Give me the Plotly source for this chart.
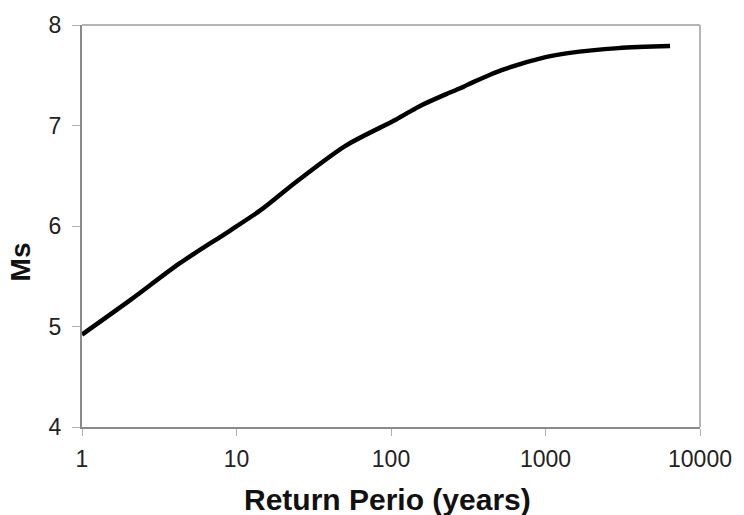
import plotly.graph_objects as go

# Data
return_period = [1, 2.04, 4.3, 9.0, 14.7, 24.4, 51, 108, 152, 226, 280, 318, 520, 1000, 1400, 2960, 6400]
ms_values = [4.92, 5.26, 5.63, 5.95, 6.17, 6.44, 6.80, 7.06, 7.19, 7.31, 7.37, 7.41, 7.55, 7.68, 7.72, 7.77, 7.79]

x_tickvals = [1, 10, 100, 1000, 10000]
x_ticktext = ["1", "10", "100", "1000", "10000"]
y_tickvals = [4, 5, 6, 7, 8]

fig = go.Figure()
fig.add_trace(go.Scatter(
    x=return_period, y=ms_values, mode="lines",
    line=dict(color="black", width=4.5, shape="spline", smoothing=0.8),
    showlegend=False,
))

font_family = "Liberation Sans, Arial, sans-serif"

fig.update_layout(
    width=744, height=515,
    margin=dict(l=82, r=41, t=25, b=88),
    paper_bgcolor="white", plot_bgcolor="white",
    font=dict(family=font_family, color="#222"),
    xaxis=dict(
        type="log", range=[0, 4],
        tickvals=x_tickvals, ticktext=x_ticktext,
        showgrid=False, zeroline=False,
        showline=True, linecolor="#8a8a8a", linewidth=2,
        ticks="outside", ticklen=7, tickcolor="#b0b0b0", tickwidth=1,
        tickfont=dict(size=23, color="#222"),
        ticklabelstandoff=3,
    ),
    yaxis=dict(
        range=[4, 8], tickvals=y_tickvals,
        showgrid=False, zeroline=False,
        showline=True, linecolor="#8a8a8a", linewidth=2,
        ticks="outside", ticklen=8, tickcolor="#b0b0b0", tickwidth=1,
        tickfont=dict(size=23, color="#222"),
        ticklabelstandoff=6,
    ),
    shapes=[
        dict(type="line", xref="paper", yref="paper", x0=0, x1=1, y0=1, y1=1,
             line=dict(color="#b5b5b5", width=2)),
        dict(type="line", xref="paper", yref="paper", x0=1, x1=1, y0=0, y1=1,
             line=dict(color="#b5b5b5", width=2)),
    ],
    annotations=[
        dict(text="<b>Return Perio (years)</b>", xref="paper", yref="paper",
             x=0.495, y=-0.18, xanchor="center", yanchor="middle", showarrow=False,
             font=dict(size=30, color="#111", family=font_family)),
        dict(text="<b>Ms</b>", xref="paper", yref="paper",
             x=-0.1, y=0.41, xanchor="center", yanchor="middle", showarrow=False,
             textangle=-90, font=dict(size=28, color="#111", family=font_family)),
    ],
)

fig.write_html("out.html")
